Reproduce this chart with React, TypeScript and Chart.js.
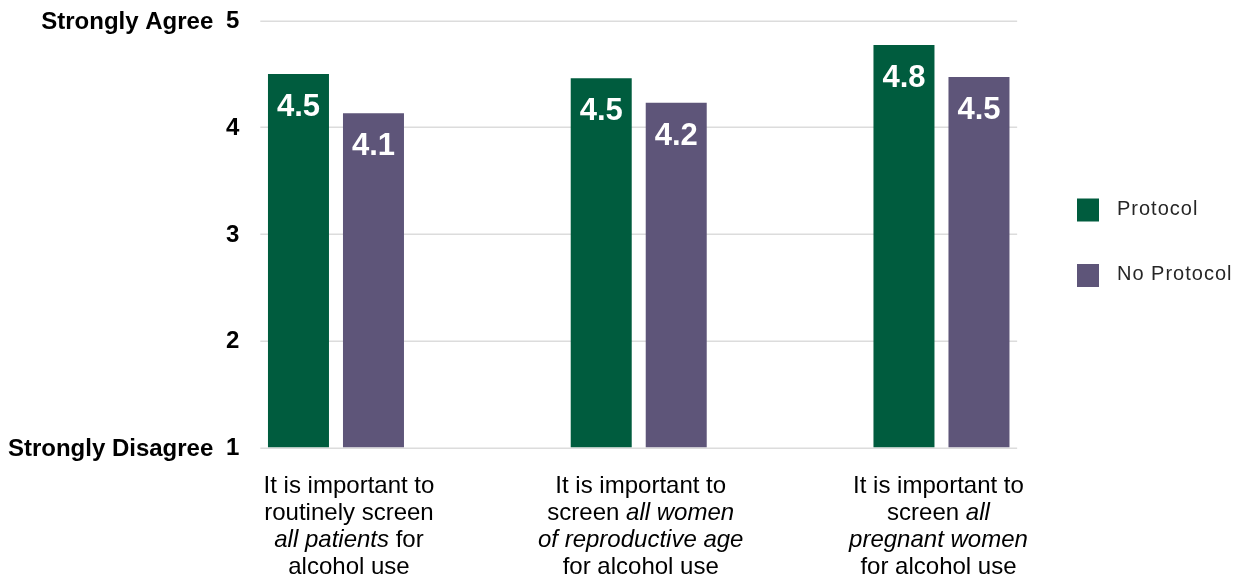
import React, { useEffect, useRef } from "react";
import { Chart, registerables } from "chart.js";

Chart.register(...registerables);

// ---------- data ----------
const categories = [
  "It is important to routinely screen all patients for alcohol use",
  "It is important to screen all women of reproductive age for alcohol use",
  "It is important to screen all pregnant women for alcohol use",
];
// each category label: lines -> segments [text, italic]
const categoryLines: [string, boolean][][][] = [
  [
    [["It is important to", false]],
    [["routinely screen", false]],
    [["all patients", true], [" for", false]],
    [["alcohol use", false]],
  ],
  [
    [["It is important to", false]],
    [["screen ", false], ["all women", true]],
    [["of reproductive age", true]],
    [["for alcohol use", false]],
  ],
  [
    [["It is important to", false]],
    [["screen ", false], ["all", true]],
    [["pregnant women", true]],
    [["for alcohol use", false]],
  ],
];
const seriesNames = ["Protocol", "No Protocol"];
const protocolValues = [4.5, 4.46, 4.77];
const noProtocolValues = [4.13, 4.23, 4.47];
const yTickValues = [1, 2, 3, 4, 5];
const anchorTickValues = [5, 1];
const anchorTickTexts = ["Strongly Agree", "Strongly Disagree"];

// ---------- styles ----------
const FONT = '"Liberation Sans", Arial, Helvetica, sans-serif';
const GREEN = "#005C3E";
const PURPLE = "#5E5579";
const GRID = "#dcdcdc";
const labelNudge = [13, 2, -3];

const customPlugin = {
  id: "customDraw",
  beforeDatasetsDraw(chart: any) {
    const { ctx, chartArea, scales } = chart;
    const y = scales.y;
    const catW = (chartArea.right - chartArea.left) / categories.length;
    const x0 = chartArea.left + catW / 4;
    const x1 = chartArea.right - catW / 4;
    ctx.save();
    ctx.strokeStyle = GRID;
    ctx.lineWidth = 1.5;
    yTickValues.forEach((v) => {
      const py = Math.round(y.getPixelForValue(v)) + 0.25;
      ctx.beginPath();
      ctx.moveTo(x0, py);
      ctx.lineTo(x1, py);
      ctx.stroke();
    });
    ctx.restore();
  },
  afterDatasetsDraw(chart: any) {
    const { ctx, chartArea, scales } = chart;
    const y = scales.y;
    const x = scales.x;
    const catW = (chartArea.right - chartArea.left) / categories.length;
    const gridStart = chartArea.left + catW / 4;
    ctx.save();

    // data labels
    ctx.fillStyle = "#ffffff";
    ctx.font = `bold 31px ${FONT}`;
    ctx.textAlign = "center";
    ctx.textBaseline = "alphabetic";
    chart.data.datasets.forEach((ds: any, di: number) => {
      const meta = chart.getDatasetMeta(di);
      meta.data.forEach((bar: any, i: number) => {
        const v = ds.data[i] as number;
        ctx.fillText(v.toFixed(1), bar.x, bar.y + 42);
      });
    });

    // y tick labels
    ctx.fillStyle = "#000000";
    ctx.font = `bold 24px ${FONT}`;
    ctx.textAlign = "right";
    ctx.textBaseline = "middle";
    yTickValues.forEach((v) => {
      ctx.fillText(String(v), gridStart - 21, y.getPixelForValue(v) + 1);
    });
    anchorTickValues.forEach((v, i) => {
      ctx.fillText(anchorTickTexts[i], gridStart - 47, y.getPixelForValue(v) + 2);
    });

    // x labels
    ctx.textBaseline = "alphabetic";
    ctx.textAlign = "left";
    categoryLines.forEach((lines, ci) => {
      const cx = x.getPixelForValue(ci) + labelNudge[ci];
      lines.forEach((segs, li) => {
        const by = chartArea.bottom + 45.5 + li * 27;
        let total = 0;
        const widths = segs.map(([t, it]) => {
          ctx.font = `${it ? "italic " : ""}24px ${FONT}`;
          const w = ctx.measureText(t).width;
          total += w;
          return w;
        });
        let sx = cx - total / 2;
        segs.forEach(([t, it], si) => {
          ctx.font = `${it ? "italic " : ""}24px ${FONT}`;
          ctx.fillText(t, sx, by);
          sx += widths[si];
        });
      });
    });

    // legend
    const colors = [GREEN, PURPLE];
    const legendY = [210, 275.5];
    ctx.font = `20px ${FONT}`;
    ctx.textBaseline = "middle";
    (ctx as any).letterSpacing = "1px";
    seriesNames.forEach((name, i) => {
      ctx.fillStyle = colors[i];
      ctx.fillRect(1077, legendY[i] - 11.5, 22, 23);
      ctx.fillStyle = "#262626";
      ctx.fillText(name, 1117, legendY[i] - 1);
    });
    (ctx as any).letterSpacing = "0px";
    ctx.restore();
  },
};

export default function App() {
  const ref = useRef<HTMLCanvasElement | null>(null);
  useEffect(() => {
    if (!ref.current) return;
    const chart = new Chart(ref.current, {
      type: "bar",
      data: {
        labels: categories,
        datasets: [
          {
            label: seriesNames[0],
            data: protocolValues,
            backgroundColor: GREEN,
            base: 1,
            categoryPercentage: 0.4955,
            barPercentage: 0.8133,
          } as any,
          {
            label: seriesNames[1],
            data: noProtocolValues,
            backgroundColor: PURPLE,
            base: 1,
            categoryPercentage: 0.4955,
            barPercentage: 0.8133,
          } as any,
        ],
      },
      options: {
        responsive: false,
        animation: false,
        devicePixelRatio: 1,
        layout: {
          padding: { left: 184.6, right: 142.15, top: 20.5, bottom: 132.5 },
        },
        plugins: {
          legend: { display: false },
          tooltip: { enabled: false },
        },
        scales: {
          x: { display: false, offset: true },
          y: { display: false, min: 1, max: 5 },
        },
      },
      plugins: [customPlugin],
    });
    return () => chart.destroy();
  }, []);
  return (
    <div style={{ position: "fixed", left: 0, top: 0, width: 1235, height: 580, background: "#fff" }}>
      <canvas ref={ref} width={1235} height={580} style={{ width: 1235, height: 580, display: "block" }} />
    </div>
  );
}
